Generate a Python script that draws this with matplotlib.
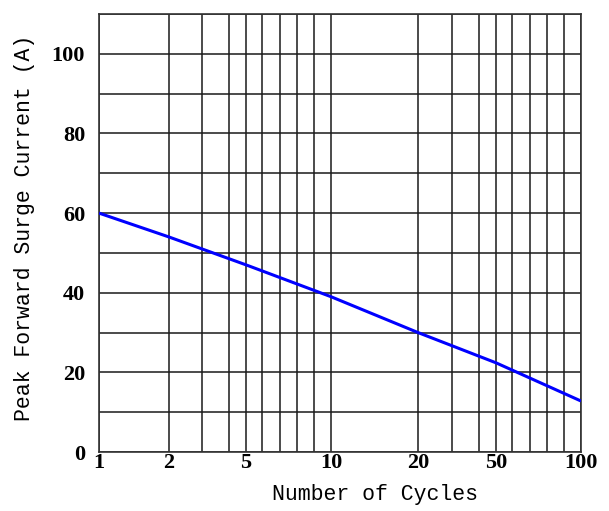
import numpy as np
import matplotlib
matplotlib.use("Agg")
import matplotlib.pyplot as plt
from matplotlib.ticker import FixedLocator, FuncFormatter

# ---- data ----
cycles = [1, 2, 5, 10, 20, 50, 100]
current = [60, 54, 47, 39, 30, 22.4, 12.8]

x_tick_values = [1, 2, 5, 10, 20, 50, 100]
x_tick_labels = ["1", "2", "5", "10", "20", "50", "100"]
y_tick_values = [0, 20, 40, 60, 80, 100]
y_grid_values = [0, 10, 20, 30, 40, 50, 60, 70, 80, 90, 100, 110]
x_grid_values = [1, 2, 3, 4, 5, 6, 7, 8, 9, 10, 20, 30, 40, 50, 60, 70, 80, 90, 100]

# ---- hand-drawn logarithmic scale of the original chart ----
# fraction of the axis width at which each grid value sits in the reference
scale_values = np.array(x_grid_values, dtype=float)
scale_fracs = (np.array([99, 169, 202, 229, 246, 262, 280, 297, 314, 331,
                         418, 452, 479, 496, 512, 530, 547, 564, 581]) - 99) / 482.0


def fwd(x):
    x = np.asarray(x, dtype=float)
    y = np.interp(x, scale_values, scale_fracs)
    y = np.where(x < 1, scale_fracs[0] + (x - 1) * 0.3, y)
    y = np.where(x > 100, scale_fracs[-1] + (x - 100) * 0.003, y)
    return y


def inv(f):
    f = np.asarray(f, dtype=float)
    x = np.interp(f, scale_fracs, scale_values)
    x = np.where(f < scale_fracs[0], 1 + (f - scale_fracs[0]) / 0.3, x)
    x = np.where(f > scale_fracs[-1], 100 + (f - scale_fracs[-1]) / 0.003, x)
    return x


fig = plt.figure(figsize=(6.09, 5.11), dpi=100)
ax = fig.add_axes([99 / 609, 59 / 511, 482 / 609, 438 / 511])

ax.set_xscale("function", functions=(fwd, inv))
ax.set_xlim(1, 100)
ax.set_ylim(0, 110)

ax.plot(cycles, current, color="#0000ff", lw=2.2, solid_capstyle="butt", zorder=3)

ax.xaxis.set_major_locator(FixedLocator(x_tick_values))
ax.xaxis.set_major_formatter(FuncFormatter(
    lambda v, p: x_tick_labels[x_tick_values.index(int(round(v)))] if int(round(v)) in x_tick_values else ""))
ax.xaxis.set_minor_locator(FixedLocator(x_grid_values))
ax.xaxis.set_minor_formatter(FuncFormatter(lambda v, p: ""))
ax.yaxis.set_major_locator(FixedLocator(y_tick_values))
ax.yaxis.set_minor_locator(FixedLocator(y_grid_values))
ax.yaxis.set_major_formatter(FuncFormatter(lambda v, p: f"{int(v)}"))
ax.yaxis.set_minor_formatter(FuncFormatter(lambda v, p: ""))

ax.grid(which="minor", color="#1a1a1a", lw=1.1)
ax.grid(which="major", color="#1a1a1a", lw=1.1)
ax.tick_params(which="both", length=0)
ax.tick_params(axis="y", pad=10)
ax.tick_params(axis="x", pad=1)

for lab in ax.get_xticklabels() + ax.get_yticklabels():
    lab.set_fontfamily("Liberation Serif")
    lab.set_fontweight("bold")
    lab.set_fontsize(16)

for s in ax.spines.values():
    s.set_color("#333333")
    s.set_linewidth(1.2)

label_font = dict(family="Liberation Mono", size=15.5)
ax.set_xlabel("Number of Cycles", **label_font, va="center")
ax.xaxis.set_label_coords((375 - 99) / 482, (452 - 494) / 438)
ax.set_ylabel("Peak Forward Surge Current (A)", **label_font, va="center")
ax.yaxis.set_label_coords((25 - 99) / 482, (452 - 228) / 438)

fig.savefig("out.png", dpi=100, facecolor="white")
